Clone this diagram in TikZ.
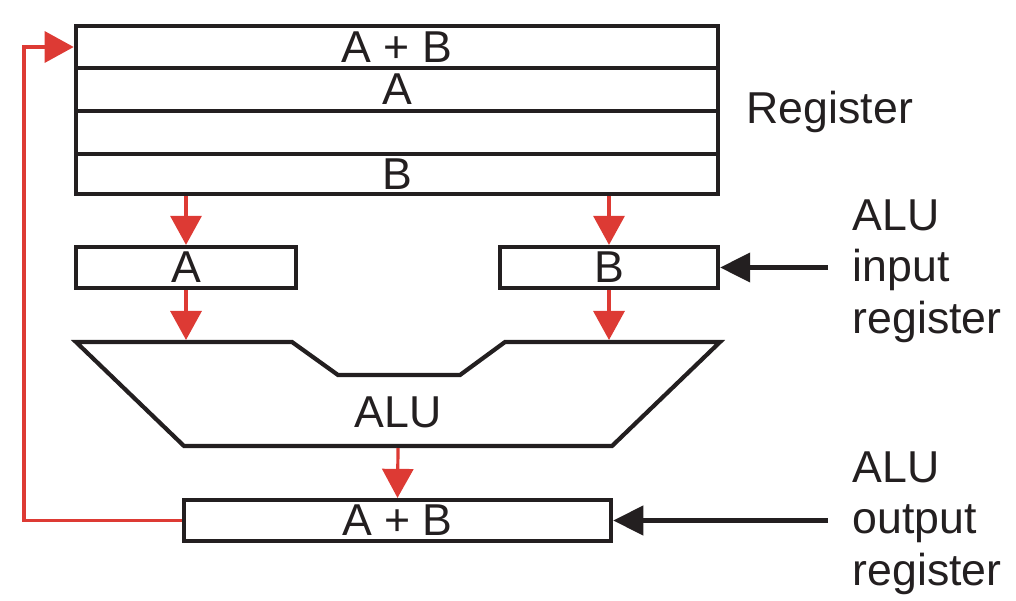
\documentclass[tikz,border=0pt]{standalone}
\usepackage{fontspec}
\setmainfont{Liberation Sans}
\usetikzlibrary{arrows.meta}
\definecolor{flowred}{RGB}{221,58,52}
\definecolor{inkblack}{RGB}{35,31,32}
\begin{document}
\begin{tikzpicture}[x = 0.01cm, y = -0.01cm,
        every node/.style = {font=\fontsize{12.7pt}{14.6pt}\selectfont, text=inkblack, inner sep=0pt},
        regbox/.style = {draw=inkblack, line width=0.42mm, minimum width=#1},
        regbox/.default = 6.42cm,
        redflow/.style = {draw=flowred, line width=0.32mm, -{Triangle[length=0.29cm, width=0.31cm]}},
        blackflow/.style = {draw=inkblack, line width=0.42mm, -{Triangle[length=0.30cm, width=0.29cm]}}]
    \useasboundingbox (0,0) rectangle (1016,600);

    % register file
    \node[regbox, minimum height=0.42cm] (row1) at (397,47)    {A + B};
    \node[regbox, minimum height=0.43cm] (row2) at (397,89.5)  {A};
    \node[regbox, minimum height=0.43cm] (row3) at (397,132.5) {};
    \node[regbox, minimum height=0.40cm] (row4) at (397,174)   {B};
    \node[anchor=base west] (reglabel) at (746,123) {Register};

    % ALU input registers
    \node[regbox=2.20cm, minimum height=0.41cm] (ina) at (186,267.5) {A};
    \node[regbox=2.18cm, minimum height=0.41cm] (inb) at (609,267.5) {B};

    % ALU
    \draw[inkblack, line width=0.42mm, line join=miter]
        (76,342) -- (292,342) -- (338,375) -- (460,375) -- (505,342) -- (720,342)
        -- (612,446) -- (184,446) -- cycle;
    \node (alu) at (398,412) {ALU};
    \coordinate (alua) at (186,340);
    \coordinate (alub) at (609,340);
    \coordinate (aluout) at (398,448);

    % ALU output register
    \node[regbox=4.27cm, minimum height=0.41cm] (out) at (397.5,520.5) {A + B};

    % data flow
    \draw[redflow] (row4.south -| ina) -- (ina.north);
    \draw[redflow] (row4.south -| inb) -- (inb.north);
    \draw[redflow] (ina.south) -- (alua);
    \draw[redflow] (inb.south) -- (alub);
    \draw[redflow] (aluout) -- (out.north);
    \coordinate (back) at (24,520.5);
    \draw[redflow, line join=miter] (out.west) -- (back) |- (row1.west);

    % side labels
    \coordinate (inlabel) at (828,267.5);
    \coordinate (outlabel) at (828,520.5);
    \draw[blackflow] (inlabel) -- (inb.east);
    \draw[blackflow] (outlabel) -- (out.east);
    \node[anchor=north west, align=left] (intext) at (852,199) {ALU\\input\\register};
    \node[anchor=north west, align=left] (outtext) at (852,451) {ALU\\output\\register};
\end{tikzpicture}
\end{document}
